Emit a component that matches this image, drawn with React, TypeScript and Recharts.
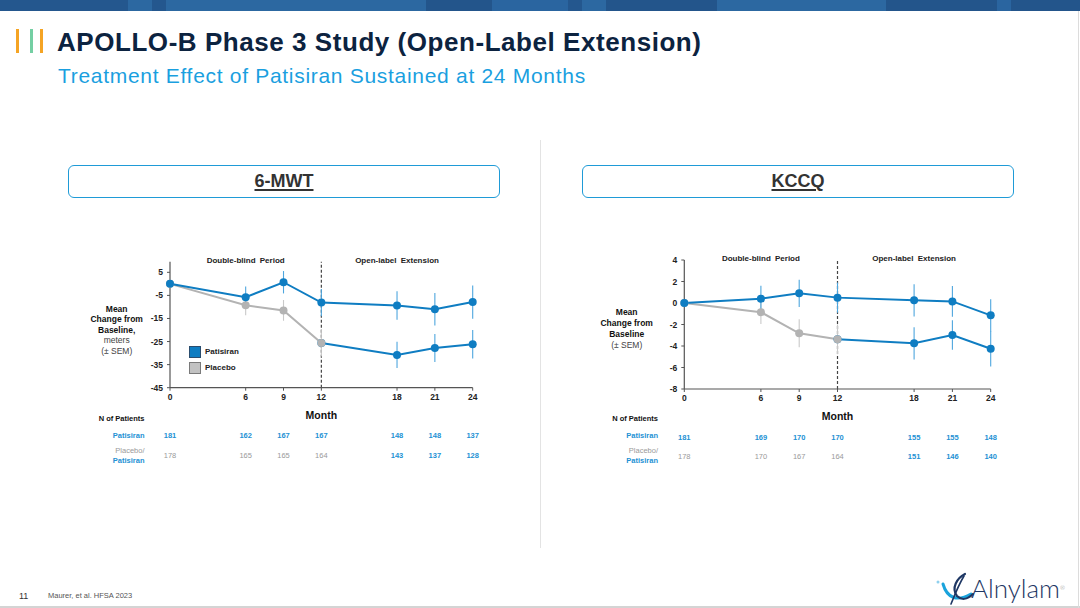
import React from 'react';
import { LineChart, Line, XAxis, YAxis, ErrorBar, ReferenceLine, ReferenceArea, Label } from 'recharts';

const months = [0, 6, 9, 12, 18, 21, 24];
const openLabelStart = 12;

// 6-MWT
const mwtPatisiran = [0, -5.8, 0.7, -8.1, -9.4, -11.0, -7.9];
const mwtPatisiranSem = [0, 4.7, 4.85, 5.9, 6.2, 7.0, 7.2];
const mwtPlacebo = [0, -9.3, -11.5, -25.6, null, null, null];
const mwtPlaceboSem = [0, 4.3, 4.5, 5.9, null, null, null];
const mwtCrossover = [null, null, null, -25.6, -30.8, -27.8, -26.2];
const mwtCrossoverSem = [null, null, null, null, 5.7, 6.1, 6.2];
const mwtNPatisiran = [181, 162, 167, 167, 148, 148, 137];
const mwtNPlacebo = [178, 165, 165, 164, 143, 137, 128];
const mwtTicks = [-45, -35, -25, -15, -5, 5];
const mwtDomain = [-45, 9.6];

// KCCQ
const kccqPatisiran = [0, 0.4, 0.9, 0.5, 0.25, 0.15, -1.15];
const kccqPatisiranSem = [0, 1.2, 1.27, 1.4, 1.5, 1.43, 1.5];
const kccqPlacebo = [0, -0.85, -2.82, -3.38, null, null, null];
const kccqPlaceboSem = [0, 1.1, 1.3, 1.38, null, null, null];
const kccqCrossover = [null, null, null, -3.38, -3.75, -2.98, -4.25];
const kccqCrossoverSem = [null, null, null, null, 1.5, 1.38, 1.65];
const kccqNPatisiran = [181, 169, 170, 170, 155, 155, 148];
const kccqNPlacebo = [178, 170, 167, 164, 151, 146, 140];
const kccqTicks = [-8, -6, -4, -2, 0, 2, 4];
const kccqDomain = [-8, 4];

const legendItems = ['Patisiran', 'Placebo'];

const FONT = '"Liberation Sans", Arial, Helvetica, sans-serif';
const BLUE = '#0f7dc2';
const BLUE_ERR = '#4ea6de';
const GRAY = '#b3b3b3';
const GRAY_ERR = '#c9c9c9';
const N_BLUE = '#2391d4';
const N_GRAY = '#9a9a9a';
const AXIS = '#555';

function NTick(props: any) {
  const { x, y, payload, nPat, nPla } = props;
  const i = months.indexOf(payload.value);
  const base = { textAnchor: 'middle' as const, fontSize: 7.5, fontWeight: 700 };
  return (
    <g>
      <text x={x} y={y} dy="0.71em" textAnchor="middle" fontSize={8.5} fontWeight={700} fill="#222">
        {payload.value}
      </text>
      <text x={x} y={y + 42} dominantBaseline="central" {...base} fill={N_BLUE}>
        {nPat[i]}
      </text>
      <text
        x={x}
        y={y + 61.5}
        dominantBaseline="central"
        {...base}
        fontWeight={payload.value > openLabelStart ? 700 : 400}
        fill={payload.value > openLabelStart ? N_BLUE : N_GRAY}
      >
        {nPla[i]}
      </text>
    </g>
  );
}

function Panel(p: any) {
  const rows = months.map((m, i) => ({
    month: m,
    pat: p.pat[i],
    patErr: p.patSem[i],
    pla: p.pla[i],
    plaErr: p.plaSem[i],
    cross: p.cross[i],
    crossErr: p.crossSem[i],
  }));
  const labelProps = { fontSize: 8, fontWeight: 700, fill: '#222', wordSpacing: 2 } as any;
  return (
    <div style={{ position: 'absolute', left: p.left, top: p.top }}>
      <LineChart width={440} height={240} data={rows} margin={p.margin}>
        <XAxis
          dataKey="month"
          type="number"
          domain={[0, 24]}
          ticks={months}
          interval={0}
          height={30}
          tickSize={3}
          tickMargin={3}
          axisLine={{ stroke: AXIS, strokeWidth: 1.2 }}
          tickLine={{ stroke: AXIS }}
          tick={(tp: any) => <NTick {...tp} nPat={p.nPat} nPla={p.nPla} />}
        >
          <Label value="Month" position="insideBottom" offset={-1} fontSize={10.5} fontWeight={700} fill="#111" />
        </XAxis>
        <YAxis
          type="number"
          domain={p.domain}
          ticks={p.ticks}
          interval={0}
          width={30}
          tickSize={3}
          tickMargin={4}
          allowDataOverflow
          axisLine={{ stroke: AXIS, strokeWidth: 1.2 }}
          tickLine={{ stroke: AXIS }}
          tick={{ fontSize: 8.5, fontWeight: 700, fill: '#222' }}
        />
        <ReferenceArea
          x1={0}
          x2={openLabelStart}
          fill="#fff"
          fillOpacity={0}
          strokeOpacity={0}
          label={<Label value="Double-blind Period" position="insideTop" offset={p.labelOffset} {...labelProps} />}
        />
        <ReferenceArea
          x1={openLabelStart}
          x2={24}
          fill="#fff"
          fillOpacity={0}
          strokeOpacity={0}
          label={<Label value="Open-label Extension" position="insideTop" offset={p.labelOffset} {...labelProps} />}
        />
        <ReferenceLine x={openLabelStart} stroke="#444" strokeDasharray="3 2" strokeWidth={1.2} />
        <Line
          dataKey="cross"
          type="linear"
          stroke={BLUE}
          strokeWidth={2}
          dot={{ r: 4, fill: BLUE, stroke: BLUE, strokeWidth: 0 }}
          activeDot={false}
          isAnimationActive={false}
        >
          <ErrorBar dataKey="crossErr" stroke={BLUE_ERR} strokeWidth={1.1} width={0} />
        </Line>
        <Line
          dataKey="pla"
          type="linear"
          stroke={GRAY}
          strokeWidth={2}
          dot={{ r: 4, fill: GRAY, stroke: GRAY, strokeWidth: 0 }}
          activeDot={false}
          isAnimationActive={false}
        >
          <ErrorBar dataKey="plaErr" stroke={GRAY_ERR} strokeWidth={1.1} width={0} />
        </Line>
        <Line
          dataKey="pat"
          type="linear"
          stroke={BLUE}
          strokeWidth={2}
          dot={{ r: 4, fill: BLUE, stroke: BLUE, strokeWidth: 0 }}
          activeDot={false}
          isAnimationActive={false}
        >
          <ErrorBar dataKey="patErr" stroke={BLUE_ERR} strokeWidth={1.1} width={0} />
        </Line>
      </LineChart>
    </div>
  );
}

const abs = (s: React.CSSProperties): React.CSSProperties => ({ position: 'absolute', ...s });

function TopBar() {
  const segs: [number, number, string][] = [
    [0, 128, '#24578e'],
    [128, 152, '#2c68a1'],
    [152, 166, '#24578e'],
    [166, 426, '#2c68a1'],
    [426, 492, '#23558b'],
    [492, 568, '#2a65a0'],
    [568, 582, '#24578e'],
    [582, 606, '#2c68a1'],
    [606, 717, '#23558b'],
    [717, 886, '#2c68a1'],
    [886, 997, '#23558b'],
    [997, 1011, '#2a65a0'],
    [1011, 1080, '#23558b'],
  ];
  return (
    <>
      {segs.map(([a, b, c], i) => (
        <div key={i} style={abs({ left: a, top: 0, width: b - a, height: 11, background: c })} />
      ))}
    </>
  );
}

function NLabels({ right }: { right: number }) {
  const w = 100;
  const l = right - w;
  const t = (y: number, text: string, color: string, weight: number) => (
    <div
      style={abs({
        left: l,
        top: y - 5,
        width: w,
        height: 10,
        lineHeight: '10px',
        textAlign: 'right',
        fontSize: 7.5,
        fontWeight: weight,
        color,
        whiteSpace: 'nowrap',
      })}
    >
      {text}
    </div>
  );
  return (
    <>
      {t(419, 'N of Patients', '#111', 700)}
      {t(436.3, 'Patisiran', N_BLUE, 700)}
      {t(451, 'Placebo/', N_GRAY, 400)}
      {t(460.5, 'Patisiran', N_BLUE, 700)}
    </>
  );
}

function YTitle({ cx, top, lh, lines }: { cx: number; top: number; lh: number; lines: [string, boolean][] }) {
  return (
    <div style={abs({ left: cx - 45, top, width: 90, textAlign: 'center', fontSize: 8.5, lineHeight: lh + 'px' })}>
      {lines.map(([s, b], i) => (
        <div key={i} style={{ fontWeight: b ? 700 : 400, color: b ? '#111' : '#444', whiteSpace: 'nowrap' }}>
          {s}
        </div>
      ))}
    </div>
  );
}

function Box({ left, width, text }: { left: number; width: number; text: string }) {
  return (
    <div
      style={abs({
        left,
        top: 165,
        width,
        height: 33,
        boxSizing: 'border-box',
        border: '1.5px solid #1f9bd7',
        borderRadius: 6,
        background: '#fff',
        display: 'flex',
        alignItems: 'center',
        justifyContent: 'center',
      })}
    >
      <span style={{ fontSize: 18, fontWeight: 700, color: '#333', textDecoration: 'underline', textDecorationThickness: '2px', textUnderlineOffset: '2px' }}>
        {text}
      </span>
    </div>
  );
}

export default function App() {
  return (
    <div
      style={abs({
        left: 0,
        top: 0,
        width: 1080,
        height: 608,
        background: '#fff',
        fontFamily: FONT,
        overflow: 'hidden',
      })}
    >
      <TopBar />
      {/* accent bars */}
      <div style={abs({ left: 16, top: 29, width: 2.5, height: 24, background: '#f5a424' })} />
      <div style={abs({ left: 30, top: 29, width: 3, height: 24, background: '#74cfa3' })} />
      <div style={abs({ left: 40, top: 29, width: 2.5, height: 24, background: '#f5a424' })} />

      <div style={abs({ left: 57, top: 26, fontSize: 26, fontWeight: 700, color: '#0c2340', whiteSpace: 'nowrap', lineHeight: '32px', letterSpacing: 0.55 })}>
        APOLLO-B Phase 3 Study (Open-Label Extension)
      </div>
      <div style={abs({ left: 58, top: 63, fontSize: 21, color: '#1a9fdf', whiteSpace: 'nowrap', lineHeight: '26px', letterSpacing: 0.7 })}>
        Treatment Effect of Patisiran Sustained at 24 Months
      </div>

      <div style={abs({ left: 540, top: 140, width: 1, height: 408, background: '#e3e3e3' })} />

      <Box left={68} width={432} text="6-MWT" />
      <Box left={582} width={432} text="KCCQ" />

      <Panel
        left={60}
        top={240}
        margin={{ top: 21.7, right: 27.3, bottom: 62.3, left: 80 }}
        labelOffset={-4}
        pat={mwtPatisiran}
        patSem={mwtPatisiranSem}
        pla={mwtPlacebo}
        plaSem={mwtPlaceboSem}
        cross={mwtCrossover}
        crossSem={mwtCrossoverSem}
        nPat={mwtNPatisiran}
        nPla={mwtNPlacebo}
        domain={mwtDomain}
        ticks={mwtTicks}
      />
      <Panel
        left={580}
        top={240}
        margin={{ top: 20, right: 29.3, bottom: 61, left: 74.3 }}
        labelOffset={-5}
        pat={kccqPatisiran}
        patSem={kccqPatisiranSem}
        pla={kccqPlacebo}
        plaSem={kccqPlaceboSem}
        cross={kccqCrossover}
        crossSem={kccqCrossoverSem}
        nPat={kccqNPatisiran}
        nPla={kccqNPlacebo}
        domain={kccqDomain}
        ticks={kccqTicks}
      />

      <YTitle
        cx={116.7}
        top={304}
        lh={10.4}
        lines={[
          ['Mean', true],
          ['Change from', true],
          ['Baseline,', true],
          ['meters', false],
          ['(± SEM)', false],
        ]}
      />
      <YTitle
        cx={626.7}
        top={306.8}
        lh={11}
        lines={[
          ['Mean', true],
          ['Change from', true],
          ['Baseline', true],
          ['(± SEM)', false],
        ]}
      />

      {/* legend */}
      {legendItems.map((name, i) => (
        <React.Fragment key={name}>
          <div
            style={abs({
              left: 189,
              top: 346 + i * 16,
              width: 12,
              height: 12,
              boxSizing: 'border-box',
              border: '1px solid ' + (i === 0 ? '#2b4d6e' : '#7a7a7a'),
              background: i === 0 ? BLUE : '#c2c2c2',
            })}
          />
          <div style={abs({ left: 205, top: 346 + i * 16, height: 12, lineHeight: '12px', fontSize: 8, fontWeight: 700, color: '#222' })}>
            {name}
          </div>
        </React.Fragment>
      ))}

      <NLabels right={144.5} />
      <NLabels right={658} />

      {/* footer */}
      <div style={abs({ left: 19, top: 590, fontSize: 9, color: '#333', lineHeight: '12px' })}>11</div>
      <div style={abs({ left: 48, top: 591, fontSize: 7.5, color: '#555', lineHeight: '10px', whiteSpace: 'nowrap' })}>
        Maurer, et al. HFSA 2023
      </div>
      <svg style={abs({ left: 935, top: 570, width: 45, height: 36 })} viewBox="0 0 45 36">
        <circle cx="3" cy="12" r="1.5" fill="#8fd0ee" />
        <path d="M8 14 C 12 28, 22 32, 36 24" stroke="#1aa3dc" strokeWidth="3" fill="none" strokeLinecap="round" />
        <path d="M30 4 C 22 8, 16 18, 22 26 C 26 30, 32 30, 38 24" stroke="#1e3764" strokeWidth="2.2" fill="none" strokeLinecap="round" />
        <path d="M29 6 C 24 14, 20 24, 16 34" stroke="#1e3764" strokeWidth="1.6" fill="none" strokeLinecap="round" />
      </svg>
      <div style={abs({ left: 971, top: 572, fontSize: 26, fontFamily: 'Lato, "Open Sans", sans-serif', fontWeight: 300, color: '#1e3764', lineHeight: '32px', whiteSpace: 'nowrap' })}>
        Alnylam<span style={{ fontSize: 6, verticalAlign: 'top', color: '#777' }}>®</span>
      </div>
      <div style={abs({ left: 0, top: 606, width: 1080, height: 2, background: '#d4d4d4' })} />
      <div style={abs({ left: 1078, top: 11, width: 1, height: 597, background: '#dcdcdc' })} />
    </div>
  );
}
